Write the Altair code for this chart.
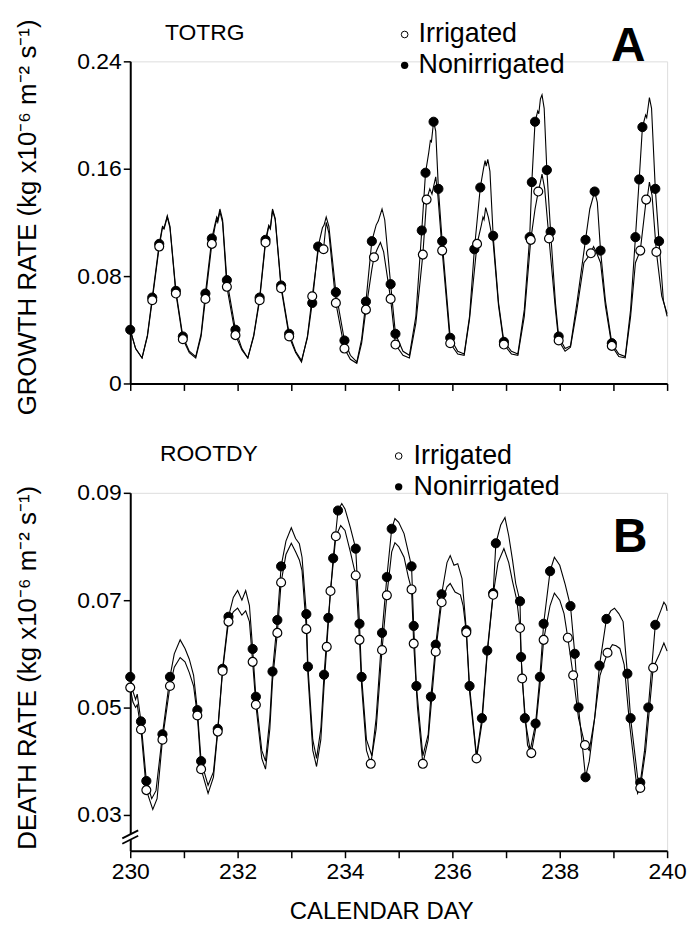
import altair as alt
import pandas as pd

FONT = "Liberation Sans"

# ---------------- TOP PANEL (TOTRG, growth rate) ----------------
top_non_day = [230.00, 230.10, 230.22, 230.32, 230.41, 230.54, 230.60, 230.63, 230.69, 230.74, 230.85, 230.98,
               231.10, 231.22, 231.32, 231.40, 231.52, 231.58, 231.61, 231.63, 231.67, 231.72, 231.80, 231.96,
               232.08, 232.19, 232.30, 232.41, 232.52, 232.58, 232.61, 232.65, 232.70, 232.81, 232.96,
               233.08, 233.19, 233.30, 233.39, 233.50, 233.58, 233.61, 233.65, 233.70, 233.83, 233.99,
               234.10, 234.22, 234.31, 234.39, 234.50, 234.58, 234.62, 234.69, 234.74, 234.85, 234.94,
               235.08, 235.20, 235.32, 235.43, 235.50, 235.56, 235.59, 235.61, 235.65, 235.69, 235.74, 235.81, 235.96,
               236.10, 236.22, 236.32, 236.41, 236.52, 236.58, 236.61, 236.63, 236.66, 236.70, 236.76, 236.86, 236.96,
               237.10, 237.22, 237.34, 237.44, 237.48, 237.54, 237.59, 237.61, 237.64, 237.67, 237.71, 237.76, 237.83, 237.92, 237.98,
               238.10, 238.20, 238.32, 238.48, 238.56, 238.65, 238.70, 238.76, 238.85, 238.97,
               239.10, 239.22, 239.32, 239.41, 239.48, 239.54, 239.60, 239.62, 239.67, 239.71, 239.78, 239.85, 239.93, 240.00]
top_non_val = [0.040, 0.026, 0.019, 0.036, 0.064, 0.104, 0.117, 0.116, 0.125, 0.117, 0.069, 0.035,
               0.024, 0.020, 0.037, 0.067, 0.108, 0.119, 0.124, 0.122, 0.130, 0.122, 0.077, 0.040,
               0.026, 0.019, 0.036, 0.064, 0.107, 0.118, 0.116, 0.130, 0.123, 0.073, 0.037,
               0.024, 0.017, 0.034, 0.060, 0.102, 0.116, 0.118, 0.124, 0.117, 0.068, 0.032,
               0.021, 0.016, 0.033, 0.061, 0.106, 0.118, 0.121, 0.130, 0.122, 0.074, 0.037,
               0.024, 0.021, 0.050, 0.114, 0.157, 0.172, 0.181, 0.180, 0.195, 0.188, 0.145, 0.106, 0.034,
               0.024, 0.022, 0.050, 0.100, 0.146, 0.160, 0.166, 0.162, 0.167, 0.158, 0.110, 0.060, 0.031,
               0.024, 0.022, 0.055, 0.109, 0.150, 0.195, 0.203, 0.201, 0.212, 0.215, 0.205, 0.159, 0.113, 0.060, 0.035,
               0.026, 0.028, 0.060, 0.107, 0.130, 0.143, 0.135, 0.099, 0.062, 0.030,
               0.022, 0.020, 0.055, 0.109, 0.152, 0.191, 0.200, 0.198, 0.213, 0.205, 0.145, 0.106, 0.062, 0.050]
top_non_marks = [230.00, 230.41, 230.54, 230.85, 230.98, 231.40, 231.52, 231.80, 231.96,
                 232.41, 232.52, 232.81, 232.96, 233.39, 233.50, 233.83, 233.99,
                 234.39, 234.50, 234.85, 234.94, 235.43, 235.50, 235.65, 235.74, 235.81, 235.96,
                 236.41, 236.52, 236.76, 236.96, 237.44, 237.48, 237.54, 237.76, 237.83, 237.98,
                 238.48, 238.65, 238.76, 238.97, 239.41, 239.48, 239.54, 239.78, 239.85]

top_irr_day = [230.00, 230.10, 230.22, 230.32, 230.41, 230.54, 230.60, 230.63, 230.69, 230.74, 230.85, 230.98,
               231.10, 231.22, 231.32, 231.40, 231.52, 231.58, 231.61, 231.63, 231.67, 231.72, 231.80, 231.96,
               232.08, 232.19, 232.30, 232.41, 232.52, 232.58, 232.61, 232.65, 232.70, 232.81, 232.96,
               233.08, 233.19, 233.30, 233.39, 233.50, 233.60, 233.65, 233.70, 233.83, 233.99,
               234.10, 234.22, 234.31, 234.39, 234.50, 234.54, 234.60, 234.66, 234.72, 234.85, 234.94,
               235.08, 235.20, 235.32, 235.45, 235.52, 235.58, 235.62, 235.69, 235.73, 235.81, 235.96,
               236.10, 236.22, 236.32, 236.46, 236.54, 236.57, 236.59, 236.62, 236.67, 236.76, 236.86, 236.96,
               237.10, 237.22, 237.34, 237.46, 237.54, 237.60, 237.64, 237.67, 237.72, 237.80, 237.92, 237.98,
               238.10, 238.20, 238.32, 238.45, 238.58, 238.63, 238.68, 238.76, 238.85, 238.97,
               239.10, 239.22, 239.32, 239.41, 239.50, 239.61, 239.64, 239.67, 239.72, 239.80, 239.90, 240.00]
top_irr_val = [0.040, 0.026, 0.019, 0.035, 0.062, 0.102, 0.116, 0.115, 0.124, 0.116, 0.067, 0.033,
               0.023, 0.019, 0.035, 0.063, 0.104, 0.117, 0.122, 0.120, 0.128, 0.120, 0.072, 0.036,
               0.025, 0.019, 0.035, 0.062, 0.105, 0.117, 0.115, 0.129, 0.122, 0.071, 0.035,
               0.023, 0.016, 0.035, 0.065, 0.099, 0.100, 0.120, 0.112, 0.060, 0.026,
               0.018, 0.015, 0.030, 0.055, 0.085, 0.094, 0.100, 0.105, 0.098, 0.063, 0.029,
               0.021, 0.019, 0.045, 0.096, 0.137, 0.145, 0.141, 0.154, 0.140, 0.099, 0.030,
               0.022, 0.021, 0.048, 0.104, 0.118, 0.124, 0.122, 0.131, 0.124, 0.105, 0.058, 0.029,
               0.022, 0.021, 0.050, 0.107, 0.130, 0.143, 0.150, 0.156, 0.145, 0.108, 0.055, 0.032,
               0.024, 0.027, 0.055, 0.090, 0.097, 0.102, 0.098, 0.090, 0.058, 0.028,
               0.020, 0.019, 0.050, 0.090, 0.099, 0.137, 0.141, 0.150, 0.140, 0.098, 0.065, 0.052]
top_irr_marks = [230.41, 230.54, 230.85, 230.98, 231.40, 231.52, 231.80, 231.96,
                 232.41, 232.52, 232.81, 232.96, 233.39, 233.60, 233.83, 233.99,
                 234.39, 234.54, 234.85, 234.94, 235.45, 235.52, 235.81, 235.96,
                 236.46, 236.96, 237.46, 237.60, 237.80, 237.98, 238.58, 238.97,
                 239.50, 239.61, 239.80]

# ---------------- BOTTOM PANEL (ROOTDY, death rate) ----------------
bot_non_day = [230.00, 230.05, 230.10, 230.13, 230.20, 230.30, 230.40, 230.48, 230.60, 230.74, 230.82, 230.93,
               231.02, 231.10, 231.18, 231.25, 231.32, 231.45, 231.55, 231.63, 231.72, 231.83, 231.92,
               232.00, 232.08, 232.15, 232.22, 232.28, 232.34, 232.45, 232.52, 232.60, 232.65, 232.74, 232.81, 232.90,
               233.00, 233.08, 233.15, 233.20, 233.28, 233.31, 233.40, 233.47, 233.55, 233.61, 233.69, 233.78, 233.87, 233.94,
               234.00, 234.10, 234.20, 234.27, 234.31, 234.40, 234.50, 234.58, 234.69, 234.78, 234.87, 234.93,
               235.00, 235.10, 235.24, 235.28, 235.33, 235.45, 235.55, 235.60, 235.69, 235.80, 235.90, 235.96,
               236.03, 236.10, 236.18, 236.26, 236.32, 236.45, 236.55, 236.65, 236.76, 236.81, 236.90, 236.98,
               237.05, 237.12, 237.18, 237.26, 237.28, 237.35, 237.45, 237.55, 237.63, 237.70, 237.82, 237.90,
               238.00, 238.10, 238.20, 238.28, 238.35, 238.48, 238.55, 238.65, 238.74, 238.87, 238.95,
               239.02, 239.10, 239.18, 239.26, 239.32, 239.45, 239.50, 239.58, 239.65, 239.78, 239.88, 239.94, 239.98, 240.00]
bot_non_val = [0.0557, 0.0530, 0.0515, 0.0525, 0.0474, 0.0363, 0.0330, 0.0345, 0.0450, 0.0557, 0.0600, 0.0626,
               0.0610, 0.0590, 0.0560, 0.0495, 0.0400, 0.0355, 0.0380, 0.0460, 0.0572, 0.0669, 0.0705,
               0.0718, 0.0700, 0.0718, 0.0690, 0.0609, 0.0520, 0.0420, 0.0400, 0.0480, 0.0567, 0.0663, 0.0763, 0.0810,
               0.0835, 0.0815, 0.0805, 0.0780, 0.0674, 0.0576, 0.0440, 0.0405, 0.0460, 0.0561, 0.0667, 0.0778, 0.0867, 0.0880,
               0.0870, 0.0835, 0.0796, 0.0656, 0.0557, 0.0440, 0.0410, 0.0480, 0.0639, 0.0743, 0.0833, 0.0852,
               0.0845, 0.0824, 0.0763, 0.0652, 0.0540, 0.0410, 0.0450, 0.0520, 0.0617, 0.0711, 0.0770, 0.0783,
               0.0765, 0.0768, 0.0740, 0.0644, 0.0540, 0.0410, 0.0480, 0.0606, 0.0713, 0.0806, 0.0840, 0.0854,
               0.0820, 0.0775, 0.0731, 0.0698, 0.0594, 0.0480, 0.0420, 0.0470, 0.0557, 0.0656, 0.0754, 0.0780,
               0.0765, 0.0730, 0.0689, 0.0600, 0.0500, 0.0370, 0.0400, 0.0480, 0.0578, 0.0665, 0.0680,
               0.0685, 0.0675, 0.0660, 0.0563, 0.0480, 0.0370, 0.0360, 0.0420, 0.0500, 0.0654, 0.0680, 0.0696, 0.0690, 0.0680]
bot_non_marks = [230.00, 230.20, 230.30, 230.60, 230.74, 231.25, 231.32, 231.63, 231.72, 231.83,
                 232.28, 232.34, 232.65, 232.74, 232.81, 233.28, 233.31, 233.61, 233.69, 233.78, 233.87,
                 234.20, 234.27, 234.31, 234.69, 234.78, 234.87, 235.24, 235.28, 235.33, 235.60, 235.69, 235.80,
                 236.26, 236.32, 236.55, 236.65, 236.76, 236.81, 237.26, 237.28, 237.35, 237.55, 237.63, 237.70, 237.82,
                 238.20, 238.28, 238.35, 238.48, 238.74, 238.87, 239.26, 239.32, 239.50, 239.65, 239.78]

bot_irr_day = [230.00, 230.05, 230.10, 230.13, 230.20, 230.30, 230.42, 230.50, 230.60, 230.74, 230.82, 230.93,
               231.02, 231.10, 231.18, 231.25, 231.32, 231.45, 231.55, 231.63, 231.72, 231.83, 231.92,
               232.00, 232.08, 232.15, 232.22, 232.28, 232.34, 232.45, 232.52, 232.60, 232.65, 232.74, 232.81, 232.90,
               233.00, 233.08, 233.15, 233.20, 233.28, 233.31, 233.40, 233.47, 233.55, 233.61, 233.66, 233.73, 233.83, 233.92,
               234.00, 234.10, 234.20, 234.27, 234.31, 234.40, 234.48, 234.58, 234.69, 234.78, 234.87, 234.93,
               235.00, 235.10, 235.18, 235.24, 235.28, 235.35, 235.45, 235.55, 235.69, 235.80, 235.90, 235.96,
               236.05, 236.15, 236.20, 236.26, 236.32, 236.45, 236.55, 236.65, 236.76, 236.85, 236.96,
               237.05, 237.12, 237.20, 237.26, 237.30, 237.40, 237.47, 237.55, 237.63, 237.70, 237.82, 237.90,
               238.00, 238.08, 238.15, 238.25, 238.35, 238.47, 238.55, 238.65, 238.75, 238.89, 238.98,
               239.05, 239.12, 239.20, 239.30, 239.45, 239.50, 239.60, 239.74, 239.86, 239.94, 240.00]
bot_irr_val = [0.0537, 0.0510, 0.0500, 0.0505, 0.0459, 0.0346, 0.0310, 0.0330, 0.0440, 0.0540, 0.0575, 0.0593,
               0.0585, 0.0565, 0.0540, 0.0485, 0.0385, 0.0340, 0.0370, 0.0455, 0.0568, 0.0660, 0.0678,
               0.0685, 0.0672, 0.0680, 0.0660, 0.0585, 0.0505, 0.0405, 0.0385, 0.0460, 0.0550, 0.0639, 0.0733, 0.0785,
               0.0806, 0.0790, 0.0775, 0.0755, 0.0646, 0.0560, 0.0420, 0.0390, 0.0440, 0.0540, 0.0613, 0.0717, 0.0819, 0.0839,
               0.0830, 0.0790, 0.0746, 0.0626, 0.0540, 0.0420, 0.0395, 0.0460, 0.0607, 0.0709, 0.0790, 0.0807,
               0.0800, 0.0780, 0.0743, 0.0720, 0.0619, 0.0500, 0.0395, 0.0440, 0.0604, 0.0696, 0.0725, 0.0731,
               0.0715, 0.0710, 0.0690, 0.0640, 0.0530, 0.0405, 0.0470, 0.0600, 0.0710, 0.0770, 0.0796,
               0.0770, 0.0735, 0.0700, 0.0648, 0.0554, 0.0430, 0.0415, 0.0460, 0.0540, 0.0626, 0.0690, 0.0713,
               0.0700, 0.0675, 0.0630, 0.0560, 0.0480, 0.0430, 0.0420, 0.0480, 0.0560, 0.0602, 0.0617,
               0.0615, 0.0610, 0.0580, 0.0470, 0.0340, 0.0350, 0.0420, 0.0574, 0.0600, 0.0620, 0.0605]
bot_irr_marks = [230.00, 230.20, 230.30, 230.60, 230.74, 231.25, 231.32, 231.63, 231.72, 231.83,
                 232.28, 232.34, 232.74, 232.81, 233.28, 233.66, 233.73, 233.83,
                 234.20, 234.27, 234.48, 234.69, 234.78, 235.24, 235.28, 235.45, 235.69, 235.80,
                 236.26, 236.45, 236.76, 237.26, 237.30, 237.47, 237.70,
                 238.15, 238.25, 238.47, 238.89, 239.50, 239.74]

# ---------------- TEXTS ----------------
top_title = "TOTRG"
bot_title = "ROOTDY"
legend_labels = ["Irrigated", "Nonirrigated"]
panel_letters = ["A", "B"]
top_ytitle = "GROWTH RATE (kg x10\u207b\u2076 m\u207b\u00b2 s\u207b\u00b9)"
bot_ytitle = "DEATH RATE  (kg x10\u207b\u2076 m\u207b\u00b2 s\u207b\u00b9)"
xtitle = "CALENDAR DAY"
x_ticks = list(range(230, 241))
top_yticks = [0, 0.08, 0.16, 0.24]
bot_yticks = [0.03, 0.05, 0.07, 0.09]

W = 540
TOP_H = 324
BOT_H = 360
BOT_MIN = 0.0233


def make_df(days, vals, marks, name):
    df = pd.DataFrame({"day": days, "val": vals})
    df["series"] = name
    mk = {round(m, 3) for m in marks}
    df["mark"] = df["day"].round(3).isin(mk)
    return df


def panel(non_df, irr_df, xdomain, ydomain, yaxis, xaxis, height, texts):
    df = pd.concat([non_df, irr_df], ignore_index=True)
    x = alt.X("day:Q", scale=alt.Scale(domain=xdomain, nice=False, zero=False), axis=xaxis)
    y = alt.Y("val:Q", scale=alt.Scale(domain=ydomain, nice=False, zero=False), axis=yaxis)
    lines = alt.Chart(df).mark_line(color="black", strokeWidth=1.1).encode(x=x, y=y, detail="series:N")
    filled = alt.Chart(non_df[non_df["mark"]]).mark_circle(
        size=85, color="black", opacity=1, stroke="black", strokeWidth=1
    ).encode(x=x, y=y)
    opened = alt.Chart(irr_df[irr_df["mark"]]).mark_circle(
        size=80, fill="white", opacity=1, stroke="black", strokeWidth=1.2
    ).encode(x=x, y=y)
    layers = [lines, filled, opened] + texts
    return alt.layer(*layers).properties(width=W, height=height)


def txt(t, xv, yv, size=22, bold=False, align="left", angle=0, font=FONT):
    mk = alt.Chart(pd.DataFrame({"t": [t]})).mark_text(
        font=font, fontSize=size, fontWeight="bold" if bold else "normal",
        align=align, baseline="middle", color="black", angle=angle
    )
    return mk.encode(x=alt.value(xv), y=alt.value(yv), text="t:N")


def dot(xv, yv, filled):
    d = pd.DataFrame({"t": [1]})
    if filled:
        m = alt.Chart(d).mark_circle(size=55, color="black", opacity=1)
    else:
        m = alt.Chart(d).mark_circle(size=45, fill="white", opacity=1, stroke="black", strokeWidth=1)
    return m.encode(x=alt.value(xv), y=alt.value(yv))


# anchor: makes the page's top-left corner exactly 130 px left / 58 px above the plot
anchor = alt.Chart(pd.DataFrame({"t": [1]})).mark_rule(color="white", strokeWidth=1).encode(
    x=alt.value(-130), y=alt.value(-58), y2=alt.value(-57)
)

top_texts = [
    anchor,
    txt(top_title, 35, -28, size=23),
    dot(276, -27, False), txt(legend_labels[0], 290, -27, size=27),
    dot(276, 4, True), txt(legend_labels[1], 290, 4, size=27),
    txt(panel_letters[0], 501, -14, size=48, bold=True, align="center"),
    txt(top_ytitle, -103, 157, size=26, align="center", angle=270),
]

# axis break marks on the bottom y axis
brk = pd.DataFrame({"y": [0.0256, 0.0246], "y2": [0.0271, 0.0261]})
brk_white = alt.Chart(pd.DataFrame({"y": [0.0253], "y2": [0.0264]})).mark_rect(color="white").encode(
    x=alt.value(-3), x2=alt.value(3),
    y=alt.Y("y:Q", scale=alt.Scale(domain=[BOT_MIN, 0.09], nice=False, zero=False)), y2="y2:Q"
)
brk_lines = alt.Chart(brk).mark_rule(color="black", strokeWidth=1.8).encode(
    x=alt.value(-8), x2=alt.value(8),
    y=alt.Y("y:Q", scale=alt.Scale(domain=[BOT_MIN, 0.09], nice=False, zero=False)), y2="y2:Q"
)

bot_texts = [
    txt(bot_title, 30, -39, size=23),
    dot(270, -37, False), txt(legend_labels[0], 285, -37, size=27),
    dot(270, -6, True), txt(legend_labels[1], 285, -6, size=27),
    txt(panel_letters[1], 503, 46, size=48, bold=True, align="center"),
    txt(bot_ytitle, -103, 176, size=26, align="center", angle=270),
    txt(xtitle, 253, BOT_H + 62, size=24, align="center"),
    brk_white, brk_lines,
]

common_axis = dict(domainColor="black", domainWidth=2, tickColor="black", tickWidth=1.5,
                   labelColor="black", labelFont=FONT, labelFontSize=23, grid=False, title=None)

top_x_axis = alt.Axis(values=x_ticks, labels=False, ticks=True, tickSize=7, **common_axis)
bot_x_axis = alt.Axis(values=x_ticks, format="d", tickSize=7, labelPadding=3, labelFlush=False,
                      labelOverlap=False,
                      labelExpr="datum.value % 2 == 0 ? datum.label : ''", **common_axis)
top_y_axis = alt.Axis(values=top_yticks, tickSize=7, labelPadding=2,
                      labelExpr="datum.value == 0 ? '0' : format(datum.value, '.2f')", **common_axis)
bot_y_axis = alt.Axis(values=bot_yticks, tickSize=7, labelPadding=2, format=".2f", **common_axis)

top = panel(make_df(top_non_day, top_non_val, top_non_marks, "Nonirrigated"),
            make_df(top_irr_day, top_irr_val, top_irr_marks, "Irrigated"),
            [230, 240], [0, 0.24], top_y_axis, top_x_axis, TOP_H, top_texts)
bot = panel(make_df(bot_non_day, bot_non_val, bot_non_marks, "Nonirrigated"),
            make_df(bot_irr_day, bot_irr_val, bot_irr_marks, "Irrigated"),
            [230, 240], [BOT_MIN, 0.09], bot_y_axis, bot_x_axis, BOT_H, bot_texts)

chart = alt.vconcat(top, bot, spacing=110, bounds="flush").properties(
    padding={"left": 0, "top": 0, "right": 0, "bottom": 0}
).configure_view(stroke=None).configure(background="white")

chart.save("out.html", embed_options={"renderer": "svg", "actions": False})
